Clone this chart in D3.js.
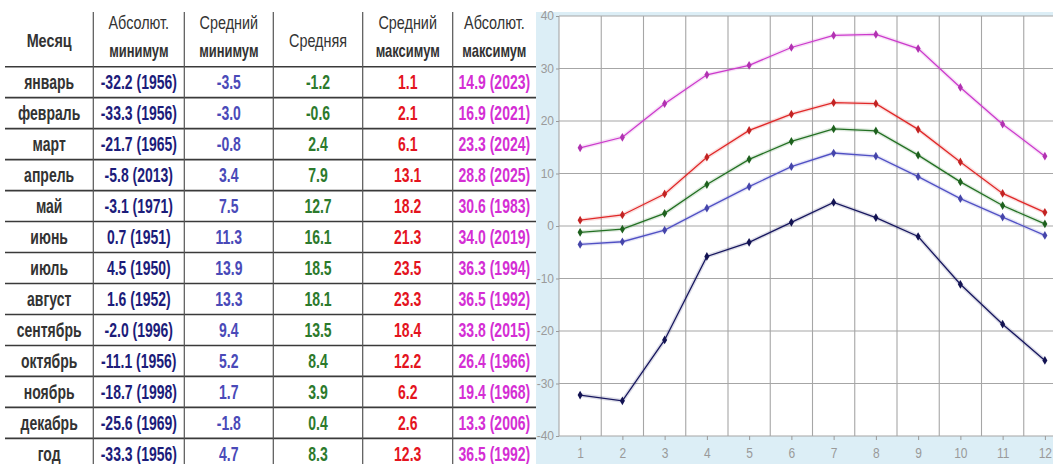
<!DOCTYPE html>
<html><head><meta charset="utf-8">
<script src="https://cdn.jsdelivr.net/npm/d3@7"></script>
<style>body{margin:0;background:#fff;} svg{display:block;}</style>
</head><body><svg id="c" width="1053" height="464"></svg>
<script>
// ---- data ----
const monthNames = ["январь","февраль","март","апрель","май","июнь","июль","август","сентябрь","октябрь","ноябрь","декабрь"];
const annualLabel = "год";
const monthNums = [1,2,3,4,5,6,7,8,9,10,11,12];
const absMin     = [-32.2,-33.3,-21.7,-5.8,-3.1,0.7,4.5,1.6,-2.0,-11.1,-18.7,-25.6];
const absMinYear = [1956,1956,1965,2013,1971,1951,1950,1952,1996,1956,1998,1969];
const meanMin    = [-3.5,-3.0,-0.8,3.4,7.5,11.3,13.9,13.3,9.4,5.2,1.7,-1.8];
const meanT      = [-1.2,-0.6,2.4,7.9,12.7,16.1,18.5,18.1,13.5,8.4,3.9,0.4];
const meanMax    = [1.1,2.1,6.1,13.1,18.2,21.3,23.5,23.3,18.4,12.2,6.2,2.6];
const absMax     = [14.9,16.9,23.3,28.8,30.6,34.0,36.3,36.5,33.8,26.4,19.4,13.3];
const absMaxYear = [2023,2021,2024,2025,1983,2019,1994,1992,2015,1966,1968,2006];
const annualValues = [-33.3,4.7,8.3,12.3,36.5];   // absMin, meanMin, mean, meanMax, absMax
const annualYears  = [1956,1992];                  // absMin year, absMax year
const headers = [["Месяц"],["Абсолют.","минимум"],["Средний","минимум"],["Средняя"],["Средний","максимум"],["Абсолют.","максимум"]];
const yTicks = [-40,-30,-20,-10,0,10,20,30,40];
const xTicks = [1,2,3,4,5,6,7,8,9,10,11,12];

// ---- styles ----
const colText = ["#333333","#1c1c7a","#4a4ab8","#2c7a2c","#e4141e","#d42ed4"];
const lineCols = {absMax:"#cc3acc", meanMax:"#e02828", mean:"#237023", meanMin:"#5050c4", absMin:"#16165e"};

const svg = d3.select("#c");
const f1 = v => v.toFixed(1);

// ---- table ----
const colEdges = [5, 93.3, 184.3, 273.3, 362.7, 452.7, 536];
const colCenter = i => (colEdges[i] + colEdges[i+1]) / 2;
const rowY = d3.scaleLinear().domain([0, 13]).range([66.7, 66.7 + 13 * 30.97]);

const tbl = svg.append("g").attr("font-family", "'Liberation Sans', Arial, sans-serif");

tbl.selectAll("line.h").data(d3.range(0, 13)).join("line")
  .attr("x1", colEdges[0]).attr("x2", colEdges[6])
  .attr("y1", d => rowY(d)).attr("y2", d => rowY(d))
  .attr("stroke", "#3a3a3a").attr("stroke-width", 1.6);
tbl.selectAll("line.v").data(colEdges.slice(1, 6)).join("line")
  .attr("x1", d => d).attr("x2", d => d)
  .attr("y1", 12).attr("y2", 464)
  .attr("stroke", "#555").attr("stroke-width", 1.2);

function cellText(g, x, y, txt, color, size, weight, sx) {
  g.append("text")
    .attr("transform", `translate(${x},${y}) scale(${sx},1)`)
    .attr("text-anchor", "middle")
    .attr("font-size", size).attr("font-weight", weight)
    .attr("fill", color).text(txt);
}

headers.forEach((h, i) => {
  if (h.length === 1) {
    cellText(tbl, colCenter(i), 47, h[0], "#333", 18, i === 0 ? "bold" : "normal", 0.8);
  } else {
    cellText(tbl, colCenter(i), 29, h[0], "#333", 18, "normal", 0.8);
    cellText(tbl, colCenter(i), 57, h[1], "#333", 18, "bold", 0.72);
  }
});

const rows = monthNames.map((m, i) => [
  m,
  `${f1(absMin[i])} (${absMinYear[i]})`,
  f1(meanMin[i]), f1(meanT[i]), f1(meanMax[i]),
  `${f1(absMax[i])} (${absMaxYear[i]})`
]);
rows.push([
  annualLabel,
  `${f1(annualValues[0])} (${annualYears[0]})`,
  f1(annualValues[1]), f1(annualValues[2]), f1(annualValues[3]),
  `${f1(annualValues[4])} (${annualYears[1]})`
]);
rows.forEach((r, ri) => {
  const base = rowY(ri) + 22.5;
  r.forEach((t, ci) => {
    cellText(tbl, colCenter(ci), base, t, colText[ci], 20, "bold", 0.7);
  });
});

// ---- chart ----
const x = d3.scaleLinear().domain([0.5, 12.5]).range([559, 1066]);
const y = d3.scaleLinear().domain([-40, 40]).range([436, 16]);

svg.append("rect").attr("x", 536).attr("y", 12).attr("width", 517).attr("height", 452).attr("fill", "#dceef6");
svg.append("rect").attr("x", x(0.5)).attr("y", y(40)).attr("width", x(12.5) - x(0.5)).attr("height", y(-40) - y(40)).attr("fill", "#fff");

const grid = svg.append("g").attr("stroke", "#a6a6a6").attr("stroke-width", 1.1);
grid.selectAll("line.gy").data(yTicks).join("line")
  .attr("x1", x(0.5)).attr("x2", x(12.5)).attr("y1", d => y(d)).attr("y2", d => y(d));
grid.selectAll("line.gx").data(d3.range(0.5, 12.6, 1)).join("line")
  .attr("x1", d => x(d)).attr("x2", d => x(d)).attr("y1", y(40)).attr("y2", y(-40));

const axFont = "'Liberation Sans', Arial, sans-serif";
const yAxis = svg.append("g").attr("transform", `translate(${x(0.5)},0)`)
  .call(d3.axisLeft(y).tickValues(yTicks).tickFormat(d => String(d)).tickSize(3).tickPadding(2));
yAxis.select(".domain").remove();
yAxis.selectAll("line").attr("stroke", "#999");
yAxis.selectAll("text").attr("fill", "#9a9a9a").attr("font-size", 12).attr("font-family", axFont);

const xAxis = svg.append("g").attr("transform", `translate(0,${y(-40)})`)
  .call(d3.axisBottom(x).tickValues(xTicks).tickFormat(d => String(d)).tickSize(4).tickPadding(4));
xAxis.select(".domain").remove();
xAxis.selectAll("line").attr("stroke", "#999");
xAxis.selectAll("text").attr("fill", "#9a9a9a").attr("font-size", 12).attr("font-family", axFont)
  .attr("transform", "scale(1,1.2)").attr("y", 9.5);

const series = [
  {k:"absMax", v:absMax},
  {k:"meanMax", v:meanMax},
  {k:"mean", v:meanT},
  {k:"meanMin", v:meanMin},
  {k:"absMin", v:absMin}
];
const line = d3.line().x((d, i) => x(monthNums[i])).y(d => y(d));
const sg = svg.append("g");
series.forEach(s => {
  const c = lineCols[s.k];
  sg.append("path").attr("d", line(s.v)).attr("fill", "none").attr("stroke", c).attr("stroke-opacity", 0.15).attr("stroke-width", 4);
  sg.append("path").attr("d", line(s.v)).attr("fill", "none").attr("stroke", c).attr("stroke-width", 1.3);
  sg.selectAll(null).data(s.v).join("path")
    .attr("d", d3.symbol(d3.symbolDiamond, 22))
    .attr("transform", (d, i) => `translate(${x(monthNums[i])},${y(d)})`)
    .attr("fill", d3.color(c).darker(0.4));
});
</script></body></html>
